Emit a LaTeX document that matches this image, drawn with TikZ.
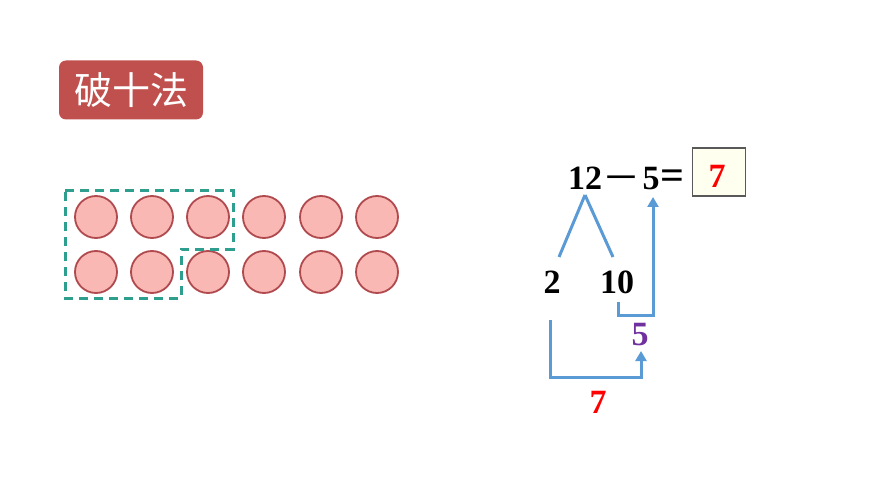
\documentclass[tikz,border=0pt]{standalone}
\usepackage{fontspec}
\usepackage{xcolor}
\setmainfont{Liberation Serif}
\newfontfamily\cjk{Noto Sans CJK SC}
\usetikzlibrary{arrows.meta,positioning}

\definecolor{titlered}{HTML}{C0504D}
\definecolor{ballfill}{HTML}{F9B8B4}
\definecolor{balledge}{HTML}{B04A4E}
\definecolor{groupteal}{HTML}{2E9E8F}
\definecolor{linkblue}{HTML}{5B9BD5}
\definecolor{numpurple}{HTML}{7030A0}
\definecolor{boxcream}{HTML}{FFFFF0}

\tikzset{
    ball/.style={circle, draw=balledge, fill=ballfill, line width=1.8pt, minimum size=42pt, inner sep=0pt},
    num/.style={anchor=base, inner sep=0pt, font=\fontsize{34}{34}\selectfont\bfseries},
    link/.style={draw=linkblue, line width=3pt},
    linkarrow/.style={link, -{Triangle[length=10pt,width=11pt]}}
}

\begin{document}
\begin{tikzpicture}[x=1pt, y=-1pt]
    \useasboundingbox (0,0) rectangle (870,489);

    % title
    \node [fill=titlered, rounded corners=7pt, minimum width=144pt, minimum height=59pt, text=white,
           font=\cjk\fontsize{38}{38}\selectfont] (title) at (131,90) {破十法};

    % twelve balls
    \foreach \col [count=\i] in {96,152,208,264,321,377} {
        \node [ball] (top\i) at (\col,217) {};
        \node [ball] (bot\i) at (\col,272) {};
    }
    \draw [groupteal, line width=3pt, dash pattern=on 9pt off 6pt]
        (65,191) -- (233,191) -- (233,249) -- (181,249) -- (181,298) -- (65,298) -- cycle;

    % equation
    \node [num] (twelve) at (585,190) {12};
    \node [anchor=base, inner sep=0pt, font=\cjk\fontsize{38}{38}\selectfont] (minus) at (621,192) {－};
    \node [num] (five) at (651,190) {5};
    \node [num, font=\fontsize{42}{42}\selectfont\bfseries] (equals) at (672,190) {=};
    \node [draw=black!65, line width=1.3pt, fill=boxcream, minimum width=53pt, minimum height=48pt] (answer) at (719,172) {};
    \node [num, text=red] (answerval) at (717,188) {7};

    % split
    \node [num] (two) at (552,293) {2};
    \node [num] (ten) at (617,293) {10};
    \coordinate (fork) at (585,195);
    \coordinate (twohead) at (559,257);
    \coordinate (tenhead) at (613,257);
    \draw [link] (fork) -- (twohead);
    \draw [link] (fork) -- (tenhead);

    % steps
    \node [num, text=numpurple] (diff) at (640,345) {5};
    \node [num, text=red] (total) at (598,413) {7};
    \coordinate (tenfoot) at (618,302);
    \coordinate (twofoot) at (550,320);
    \coordinate (fivefoot) at (653,197);
    \coordinate (difffoot) at (641,351);
    \draw [linkarrow] (tenfoot) |- (fivefoot |- 0,315) -- (fivefoot);
    \draw [linkarrow] (twofoot) |- (difffoot |- 0,377) -- (difffoot);
\end{tikzpicture}
\end{document}
